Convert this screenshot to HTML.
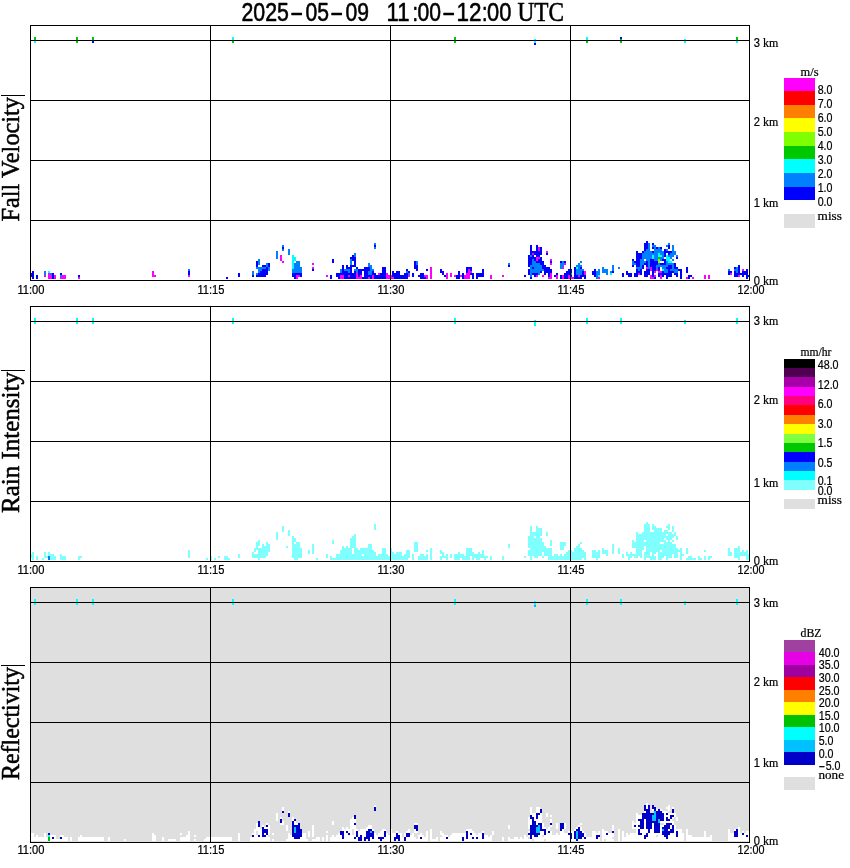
<!DOCTYPE html>
<html lang="en"><head><meta charset="utf-8"><title>2025-05-09 11:00-12:00 UTC</title>
<style>
html,body{margin:0;padding:0;background:#fff;}
body{width:850px;height:868px;overflow:hidden;}
svg{display:block;}
text{fill:#000;white-space:pre;stroke:#000;stroke-linejoin:round;}
.b{stroke-width:.55px;}
.s{stroke-width:.22px;}
</style></head><body>
<svg width="850" height="868" viewBox="0 0 850 868" shape-rendering="crispEdges">
<rect width="850" height="868" fill="#fff"/>
<path fill="#0000ff" d="M30 273h2v4h-2zM32 271h2v8h-2zM36 275h2v4h-2zM52 273h2v6h-2zM60 273h2v2h-2zM78 275h2v2h-2zM92 41h2v2h-2zM188 271h2v4h-2zM226 277h2v2h-2zM238 273h2v4h-2zM252 275h2v2h-2zM256 275h2v2h-2zM256 261h2v6h-2zM258 273h2v4h-2zM260 271h2v6h-2zM262 269h2v8h-2zM262 265h2v2h-2zM264 269h2v8h-2zM264 265h2v2h-2zM266 267h2v8h-2zM268 263h2v4h-2zM282 247h2v2h-2zM292 273h2v4h-2zM294 273h2v6h-2zM296 273h2v2h-2zM298 273h2v2h-2zM300 273h2v4h-2zM312 269h2v2h-2zM330 275h2v4h-2zM332 259h2v4h-2zM336 273h2v4h-2zM338 273h2v6h-2zM340 273h2v2h-2zM342 265h2v10h-2zM344 271h2v8h-2zM346 271h2v8h-2zM346 265h2v4h-2zM348 277h2v2h-2zM348 273h2v2h-2zM348 267h2v2h-2zM350 265h2v14h-2zM350 257h2v2h-2zM352 273h2v6h-2zM352 265h2v2h-2zM352 255h2v6h-2zM354 271h2v8h-2zM354 257h2v10h-2zM356 267h2v2h-2zM358 269h2v8h-2zM360 269h2v6h-2zM362 277h2v2h-2zM362 269h2v2h-2zM364 267h2v12h-2zM366 267h2v12h-2zM368 275h2v2h-2zM368 267h2v4h-2zM370 275h2v4h-2zM372 271h2v4h-2zM374 273h2v6h-2zM374 245h2v2h-2zM376 275h2v4h-2zM378 275h2v4h-2zM380 273h2v6h-2zM382 267h2v12h-2zM384 267h2v12h-2zM392 271h2v6h-2zM394 273h2v6h-2zM396 271h2v8h-2zM398 271h2v8h-2zM400 275h2v4h-2zM402 275h2v4h-2zM404 273h2v6h-2zM406 273h2v6h-2zM406 269h2v2h-2zM408 271h2v2h-2zM412 273h2v4h-2zM414 261h2v8h-2zM416 265h2v6h-2zM418 275h2v2h-2zM420 273h2v6h-2zM422 273h2v6h-2zM424 277h2v2h-2zM426 269h2v2h-2zM440 269h2v4h-2zM442 271h2v4h-2zM444 275h2v2h-2zM456 275h2v4h-2zM458 271h2v8h-2zM462 273h2v6h-2zM466 267h2v6h-2zM468 267h2v2h-2zM470 273h2v2h-2zM470 267h2v4h-2zM472 273h2v6h-2zM476 273h2v6h-2zM478 273h2v4h-2zM480 273h2v4h-2zM482 269h2v8h-2zM508 265h2v2h-2zM524 275h2v2h-2zM528 269h2v6h-2zM528 255h2v12h-2zM530 277h2v2h-2zM530 257h2v8h-2zM530 245h2v10h-2zM532 273h2v2h-2zM532 267h2v2h-2zM532 255h2v4h-2zM532 251h2v2h-2zM534 273h2v4h-2zM534 257h2v4h-2zM534 251h2v4h-2zM534 43h2v2h-2zM536 273h2v2h-2zM536 261h2v2h-2zM536 245h2v12h-2zM538 259h2v4h-2zM538 251h2v6h-2zM540 271h2v2h-2zM540 257h2v8h-2zM540 247h2v8h-2zM542 261h2v8h-2zM544 265h2v10h-2zM546 267h2v6h-2zM546 253h2v2h-2zM548 267h2v10h-2zM550 269h2v4h-2zM550 261h2v2h-2zM554 275h2v2h-2zM556 273h2v2h-2zM560 275h2v4h-2zM560 261h2v2h-2zM564 273h2v6h-2zM564 261h2v2h-2zM566 271h2v8h-2zM568 269h2v6h-2zM570 275h2v2h-2zM570 269h2v4h-2zM574 267h2v12h-2zM576 275h2v4h-2zM578 277h2v2h-2zM580 275h2v4h-2zM580 267h2v2h-2zM582 271h2v6h-2zM584 275h2v4h-2zM592 271h2v4h-2zM594 269h2v8h-2zM612 271h2v2h-2zM620 37h2v2h-2zM622 273h2v4h-2zM626 271h2v4h-2zM628 273h2v4h-2zM630 273h2v4h-2zM632 265h2v2h-2zM632 259h2v2h-2zM634 273h2v4h-2zM634 261h2v2h-2zM636 269h2v8h-2zM636 251h2v16h-2zM638 271h2v2h-2zM638 253h2v14h-2zM640 269h2v6h-2zM640 253h2v6h-2zM642 265h2v4h-2zM642 251h2v2h-2zM644 271h2v6h-2zM644 263h2v2h-2zM644 243h2v8h-2zM646 269h2v8h-2zM646 261h2v6h-2zM646 241h2v8h-2zM648 269h2v6h-2zM650 259h2v8h-2zM652 259h2v18h-2zM652 251h2v2h-2zM652 247h2v2h-2zM652 243h2v2h-2zM654 277h2v2h-2zM654 261h2v10h-2zM656 261h2v4h-2zM656 247h2v2h-2zM658 273h2v4h-2zM658 267h2v4h-2zM660 273h2v2h-2zM660 263h2v2h-2zM660 247h2v2h-2zM662 271h2v6h-2zM662 263h2v2h-2zM662 259h2v2h-2zM664 273h2v2h-2zM664 259h2v6h-2zM664 249h2v8h-2zM666 273h2v6h-2zM666 267h2v2h-2zM666 251h2v2h-2zM668 265h2v12h-2zM668 251h2v4h-2zM668 245h2v4h-2zM670 271h2v6h-2zM670 265h2v4h-2zM670 251h2v2h-2zM672 271h2v2h-2zM674 273h2v2h-2zM674 263h2v6h-2zM676 273h2v4h-2zM676 267h2v2h-2zM676 257h2v2h-2zM678 269h2v2h-2zM680 269h2v10h-2zM686 267h2v6h-2zM688 275h2v4h-2zM690 275h2v2h-2zM728 271h2v4h-2zM730 271h2v2h-2zM734 271h2v6h-2zM734 267h2v2h-2zM736 273h2v4h-2zM738 265h2v10h-2zM740 273h2v2h-2zM742 271h2v6h-2zM744 271h2v4h-2zM746 269h2v10h-2zM748 275h2v2h-2z"/>
<path fill="#ff00ff" d="M44 275h2v2h-2zM48 273h2v6h-2zM50 275h2v4h-2zM54 275h2v4h-2zM60 277h2v2h-2zM62 275h2v4h-2zM64 275h2v4h-2zM78 277h2v2h-2zM152 271h2v6h-2zM154 275h2v2h-2zM188 275h2v2h-2zM280 255h2v6h-2zM282 261h2v2h-2zM296 275h2v4h-2zM298 275h2v2h-2zM312 267h2v2h-2zM312 263h2v2h-2zM326 275h2v2h-2zM340 275h2v4h-2zM342 275h2v4h-2zM348 275h2v2h-2zM356 273h2v6h-2zM358 277h2v2h-2zM360 275h2v4h-2zM368 277h2v2h-2zM372 275h2v4h-2zM378 273h2v2h-2zM386 273h2v6h-2zM388 275h2v4h-2zM390 275h2v4h-2zM392 277h2v2h-2zM408 275h2v2h-2zM424 275h2v2h-2zM426 275h2v4h-2zM430 267h2v12h-2zM446 273h2v6h-2zM450 273h2v4h-2zM454 275h2v2h-2zM460 275h2v2h-2zM464 275h2v4h-2zM466 273h2v6h-2zM468 269h2v10h-2zM470 271h2v2h-2zM490 275h2v4h-2zM502 275h2v2h-2zM532 253h2v2h-2zM536 275h2v2h-2zM536 257h2v4h-2zM538 257h2v2h-2zM538 247h2v4h-2zM542 275h2v2h-2zM546 251h2v2h-2zM548 277h2v2h-2zM550 273h2v6h-2zM550 263h2v2h-2zM550 259h2v2h-2zM556 275h2v4h-2zM562 275h2v4h-2zM562 267h2v2h-2zM564 263h2v2h-2zM568 275h2v4h-2zM570 277h2v2h-2zM572 277h2v2h-2zM578 275h2v2h-2zM584 271h2v4h-2zM598 277h2v2h-2zM638 273h2v2h-2zM646 267h2v2h-2zM650 275h2v4h-2zM650 267h2v4h-2zM652 277h2v2h-2zM654 275h2v2h-2zM654 271h2v2h-2zM656 269h2v2h-2zM658 271h2v2h-2zM660 275h2v4h-2zM660 271h2v2h-2zM686 277h2v2h-2zM692 277h2v2h-2zM704 275h2v4h-2zM708 275h2v4h-2zM730 273h2v2h-2zM738 275h2v2h-2zM742 269h2v2h-2z"/>
<path fill="#0080ff" d="M44 271h2v4h-2zM50 273h2v2h-2zM60 275h2v2h-2zM188 269h2v2h-2zM252 271h2v4h-2zM256 273h2v2h-2zM256 267h2v2h-2zM258 267h2v6h-2zM258 259h2v6h-2zM260 267h2v4h-2zM262 267h2v2h-2zM264 267h2v2h-2zM266 263h2v4h-2zM268 267h2v4h-2zM276 251h2v8h-2zM282 249h2v2h-2zM282 245h2v2h-2zM288 249h2v6h-2zM292 269h2v4h-2zM294 263h2v10h-2zM296 261h2v12h-2zM298 261h2v12h-2zM300 267h2v6h-2zM340 269h2v4h-2zM344 269h2v2h-2zM346 269h2v2h-2zM348 269h2v4h-2zM350 259h2v6h-2zM354 269h2v2h-2zM354 253h2v4h-2zM356 269h2v4h-2zM368 271h2v4h-2zM368 263h2v4h-2zM370 265h2v10h-2zM372 269h2v2h-2zM374 247h2v2h-2zM374 243h2v2h-2zM406 271h2v2h-2zM408 273h2v2h-2zM416 261h2v4h-2zM508 263h2v2h-2zM530 265h2v12h-2zM530 255h2v2h-2zM532 269h2v4h-2zM532 259h2v8h-2zM534 261h2v12h-2zM536 263h2v10h-2zM538 263h2v12h-2zM540 265h2v6h-2zM542 269h2v2h-2zM560 263h2v6h-2zM562 261h2v6h-2zM570 273h2v2h-2zM576 269h2v6h-2zM576 265h2v2h-2zM578 263h2v12h-2zM580 269h2v6h-2zM580 265h2v2h-2zM580 261h2v2h-2zM582 269h2v2h-2zM596 271h2v8h-2zM598 269h2v6h-2zM602 267h2v6h-2zM604 269h2v4h-2zM606 269h2v6h-2zM610 271h2v2h-2zM612 265h2v6h-2zM618 267h2v2h-2zM632 261h2v4h-2zM634 263h2v2h-2zM636 267h2v2h-2zM638 267h2v4h-2zM640 259h2v10h-2zM642 253h2v12h-2zM644 261h2v2h-2zM644 251h2v8h-2zM646 249h2v12h-2zM648 243h2v26h-2zM650 251h2v8h-2zM652 253h2v2h-2zM652 245h2v2h-2zM654 245h2v16h-2zM656 265h2v4h-2zM656 249h2v12h-2zM658 263h2v4h-2zM658 247h2v6h-2zM660 265h2v2h-2zM660 257h2v4h-2zM660 249h2v6h-2zM662 265h2v4h-2zM662 251h2v8h-2zM664 265h2v8h-2zM666 269h2v4h-2zM666 261h2v6h-2zM666 249h2v2h-2zM666 245h2v2h-2zM668 263h2v2h-2zM668 255h2v2h-2zM668 243h2v2h-2zM670 269h2v2h-2zM670 263h2v2h-2zM670 253h2v6h-2zM672 263h2v8h-2zM672 259h2v2h-2zM672 245h2v12h-2zM674 269h2v4h-2zM674 251h2v4h-2zM676 269h2v4h-2zM676 255h2v2h-2zM728 269h2v2h-2zM734 269h2v2h-2zM736 267h2v6h-2z"/>
<path fill="#00ffff" d="M34 41h2v2h-2zM48 271h2v2h-2zM232 37h2v4h-2zM292 255h2v14h-2zM294 257h2v4h-2zM534 39h2v4h-2zM576 267h2v2h-2zM586 37h2v4h-2zM598 275h2v2h-2zM610 273h2v2h-2zM652 255h2v4h-2zM658 253h2v4h-2zM660 255h2v2h-2zM662 269h2v2h-2zM666 255h2v6h-2zM668 257h2v6h-2zM670 261h2v2h-2zM684 39h2v4h-2zM736 41h2v2h-2z"/>
<path fill="#80ff00" d="M658 259h2v4h-2z"/>
<path fill="#00c800" d="M34 37h2v4h-2zM76 37h2v6h-2zM92 37h2v4h-2zM232 41h2v2h-2zM454 37h2v6h-2zM586 41h2v2h-2zM620 39h2v4h-2zM658 257h2v2h-2zM736 37h2v4h-2z"/>
<path fill="#000" d="M30 25h720v1h-720zM30 40h720v1h-720zM30 100h720v1h-720zM30 160h720v1h-720zM30 220h720v1h-720zM30 280h720v1h-720zM30 25h1v256h-1zM210 25h1v256h-1zM390 25h1v256h-1zM570 25h1v256h-1zM749 25h1v256h-1z"/>
<text x="17.4" y="294" font-size="12.5" font-family='"Liberation Sans", sans-serif' text-anchor="start" textLength="27" lengthAdjust="spacingAndGlyphs" class="s">11:00</text>
<text x="197.4" y="294" font-size="12.5" font-family='"Liberation Sans", sans-serif' text-anchor="start" textLength="27" lengthAdjust="spacingAndGlyphs" class="s">11:15</text>
<text x="377.4" y="294" font-size="12.5" font-family='"Liberation Sans", sans-serif' text-anchor="start" textLength="27" lengthAdjust="spacingAndGlyphs" class="s">11:30</text>
<text x="557.4" y="294" font-size="12.5" font-family='"Liberation Sans", sans-serif' text-anchor="start" textLength="27" lengthAdjust="spacingAndGlyphs" class="s">11:45</text>
<text x="737.4" y="294" font-size="12.5" font-family='"Liberation Sans", sans-serif' text-anchor="start" textLength="27" lengthAdjust="spacingAndGlyphs" class="s">12:00</text>
<text x="753.8" y="47" font-size="12.5" font-family='"Liberation Sans", sans-serif' text-anchor="start" textLength="6.2" lengthAdjust="spacingAndGlyphs" class="s">3</text>
<text x="763" y="47" font-size="13" font-family='"Liberation Serif", serif' text-anchor="start" textLength="15.3" lengthAdjust="spacingAndGlyphs" class="s">km</text>
<text x="753.8" y="126" font-size="12.5" font-family='"Liberation Sans", sans-serif' text-anchor="start" textLength="6.2" lengthAdjust="spacingAndGlyphs" class="s">2</text>
<text x="763" y="126" font-size="13" font-family='"Liberation Serif", serif' text-anchor="start" textLength="15.3" lengthAdjust="spacingAndGlyphs" class="s">km</text>
<text x="753.8" y="207" font-size="12.5" font-family='"Liberation Sans", sans-serif' text-anchor="start" textLength="6.2" lengthAdjust="spacingAndGlyphs" class="s">1</text>
<text x="763" y="207" font-size="13" font-family='"Liberation Serif", serif' text-anchor="start" textLength="15.3" lengthAdjust="spacingAndGlyphs" class="s">km</text>
<text x="753.8" y="285" font-size="12.5" font-family='"Liberation Sans", sans-serif' text-anchor="start" textLength="6.2" lengthAdjust="spacingAndGlyphs" class="s">0</text>
<text x="763" y="285" font-size="13" font-family='"Liberation Serif", serif' text-anchor="start" textLength="15.3" lengthAdjust="spacingAndGlyphs" class="s">km</text>
<path fill="#80ffff" d="M30 554h2v4h-2zM32 552h2v8h-2zM36 556h2v4h-2zM42 558h2v2h-2zM44 552h2v6h-2zM46 556h2v2h-2zM48 552h2v4h-2zM50 554h2v6h-2zM52 554h2v6h-2zM54 556h2v4h-2zM60 554h2v6h-2zM62 556h2v4h-2zM64 556h2v4h-2zM78 556h2v4h-2zM80 556h2v2h-2zM188 550h2v8h-2zM206 558h2v2h-2zM210 556h2v4h-2zM214 558h2v2h-2zM218 556h2v2h-2zM224 556h2v4h-2zM226 556h2v4h-2zM228 558h2v2h-2zM238 554h2v4h-2zM252 552h2v6h-2zM254 554h2v4h-2zM254 548h2v4h-2zM256 554h2v4h-2zM256 542h2v8h-2zM258 548h2v12h-2zM258 540h2v6h-2zM260 548h2v10h-2zM262 544h2v14h-2zM264 546h2v12h-2zM266 542h2v14h-2zM268 544h2v8h-2zM276 532h2v8h-2zM282 526h2v6h-2zM286 546h2v2h-2zM288 530h2v6h-2zM292 536h2v22h-2zM294 544h2v16h-2zM294 538h2v4h-2zM296 542h2v18h-2zM298 542h2v16h-2zM300 548h2v10h-2zM308 550h2v4h-2zM312 544h2v10h-2zM316 558h2v2h-2zM326 554h2v4h-2zM330 556h2v4h-2zM332 558h2v2h-2zM332 540h2v4h-2zM334 558h2v2h-2zM336 554h2v6h-2zM338 554h2v6h-2zM340 550h2v10h-2zM342 546h2v14h-2zM344 548h2v12h-2zM346 546h2v14h-2zM348 548h2v12h-2zM350 538h2v22h-2zM352 554h2v6h-2zM352 536h2v12h-2zM354 534h2v26h-2zM356 548h2v12h-2zM358 550h2v10h-2zM360 548h2v12h-2zM362 556h2v4h-2zM362 548h2v6h-2zM364 548h2v12h-2zM366 548h2v12h-2zM368 544h2v16h-2zM370 544h2v16h-2zM372 550h2v10h-2zM374 552h2v8h-2zM374 524h2v6h-2zM376 556h2v4h-2zM378 554h2v6h-2zM380 554h2v6h-2zM382 548h2v12h-2zM384 548h2v12h-2zM386 554h2v6h-2zM388 556h2v4h-2zM390 548h2v12h-2zM392 552h2v8h-2zM394 554h2v6h-2zM396 552h2v8h-2zM398 552h2v8h-2zM400 552h2v8h-2zM402 556h2v4h-2zM404 554h2v6h-2zM406 550h2v10h-2zM408 550h2v8h-2zM412 554h2v6h-2zM414 542h2v10h-2zM416 542h2v10h-2zM418 556h2v4h-2zM420 554h2v6h-2zM422 554h2v6h-2zM424 556h2v4h-2zM426 554h2v6h-2zM426 550h2v2h-2zM430 548h2v12h-2zM440 556h2v4h-2zM440 550h2v4h-2zM442 552h2v6h-2zM444 556h2v2h-2zM446 554h2v6h-2zM450 554h2v4h-2zM454 554h2v6h-2zM456 554h2v6h-2zM458 552h2v8h-2zM460 554h2v4h-2zM462 554h2v6h-2zM464 556h2v4h-2zM466 548h2v12h-2zM468 548h2v12h-2zM470 548h2v8h-2zM472 552h2v8h-2zM474 554h2v4h-2zM476 554h2v6h-2zM478 552h2v8h-2zM480 554h2v4h-2zM482 550h2v8h-2zM484 556h2v4h-2zM486 556h2v2h-2zM490 556h2v4h-2zM502 556h2v4h-2zM508 544h2v4h-2zM524 556h2v2h-2zM528 550h2v6h-2zM528 536h2v12h-2zM530 526h2v34h-2zM532 532h2v24h-2zM534 538h2v20h-2zM534 532h2v4h-2zM536 526h2v32h-2zM538 528h2v28h-2zM540 538h2v18h-2zM540 528h2v8h-2zM542 556h2v2h-2zM542 542h2v10h-2zM544 546h2v10h-2zM546 548h2v8h-2zM546 532h2v4h-2zM548 548h2v12h-2zM550 548h2v12h-2zM550 540h2v6h-2zM552 556h2v4h-2zM554 554h2v6h-2zM556 554h2v6h-2zM558 556h2v4h-2zM560 554h2v6h-2zM560 542h2v8h-2zM562 556h2v4h-2zM562 542h2v8h-2zM564 554h2v6h-2zM564 542h2v4h-2zM566 552h2v8h-2zM568 550h2v10h-2zM570 550h2v10h-2zM572 552h2v8h-2zM574 548h2v12h-2zM576 546h2v14h-2zM578 544h2v16h-2zM580 548h2v12h-2zM580 542h2v2h-2zM582 550h2v8h-2zM584 552h2v8h-2zM592 550h2v8h-2zM594 550h2v8h-2zM596 552h2v8h-2zM598 550h2v8h-2zM602 548h2v6h-2zM604 550h2v4h-2zM606 550h2v6h-2zM612 544h2v10h-2zM618 548h2v6h-2zM622 554h2v4h-2zM626 552h2v4h-2zM628 554h2v6h-2zM630 552h2v6h-2zM632 554h2v2h-2zM632 540h2v8h-2zM634 554h2v4h-2zM634 542h2v6h-2zM636 532h2v26h-2zM638 534h2v22h-2zM640 534h2v24h-2zM642 532h2v18h-2zM644 552h2v8h-2zM644 542h2v4h-2zM644 524h2v16h-2zM646 522h2v36h-2zM648 524h2v34h-2zM650 556h2v4h-2zM650 532h2v20h-2zM652 532h2v28h-2zM652 524h2v6h-2zM654 556h2v4h-2zM654 526h2v28h-2zM656 528h2v24h-2zM658 528h2v32h-2zM660 552h2v8h-2zM660 544h2v6h-2zM660 528h2v14h-2zM662 544h2v14h-2zM662 532h2v10h-2zM664 540h2v16h-2zM664 530h2v8h-2zM666 542h2v18h-2zM666 536h2v4h-2zM666 530h2v4h-2zM666 526h2v2h-2zM668 532h2v26h-2zM668 524h2v6h-2zM670 542h2v16h-2zM670 532h2v8h-2zM672 544h2v10h-2zM672 540h2v2h-2zM672 534h2v4h-2zM672 526h2v6h-2zM674 544h2v14h-2zM674 532h2v4h-2zM676 548h2v10h-2zM676 536h2v4h-2zM678 550h2v2h-2zM680 548h2v12h-2zM682 554h2v2h-2zM686 558h2v2h-2zM686 548h2v6h-2zM688 556h2v4h-2zM690 556h2v4h-2zM692 558h2v2h-2zM694 558h2v2h-2zM698 556h2v4h-2zM700 558h2v2h-2zM704 556h2v4h-2zM704 550h2v2h-2zM708 556h2v4h-2zM710 556h2v2h-2zM728 548h2v8h-2zM730 552h2v4h-2zM734 548h2v10h-2zM736 548h2v10h-2zM738 546h2v14h-2zM740 552h2v4h-2zM742 550h2v6h-2zM744 552h2v4h-2zM746 550h2v10h-2zM748 554h2v6h-2z"/>
<path fill="#0080ff" d="M48 556h2v4h-2z"/>
<path fill="#00ffff" d="M34 318h2v6h-2zM76 318h2v6h-2zM92 318h2v6h-2zM232 318h2v6h-2zM454 318h2v6h-2zM534 320h2v6h-2zM586 318h2v6h-2zM620 318h2v6h-2zM684 320h2v4h-2zM736 318h2v6h-2z"/>
<path fill="#000" d="M30 306h720v1h-720zM30 321h720v1h-720zM30 381h720v1h-720zM30 441h720v1h-720zM30 501h720v1h-720zM30 561h720v1h-720zM30 306h1v256h-1zM210 306h1v256h-1zM390 306h1v256h-1zM570 306h1v256h-1zM749 306h1v256h-1z"/>
<text x="17.4" y="574" font-size="12.5" font-family='"Liberation Sans", sans-serif' text-anchor="start" textLength="27" lengthAdjust="spacingAndGlyphs" class="s">11:00</text>
<text x="197.4" y="574" font-size="12.5" font-family='"Liberation Sans", sans-serif' text-anchor="start" textLength="27" lengthAdjust="spacingAndGlyphs" class="s">11:15</text>
<text x="377.4" y="574" font-size="12.5" font-family='"Liberation Sans", sans-serif' text-anchor="start" textLength="27" lengthAdjust="spacingAndGlyphs" class="s">11:30</text>
<text x="557.4" y="574" font-size="12.5" font-family='"Liberation Sans", sans-serif' text-anchor="start" textLength="27" lengthAdjust="spacingAndGlyphs" class="s">11:45</text>
<text x="737.4" y="574" font-size="12.5" font-family='"Liberation Sans", sans-serif' text-anchor="start" textLength="27" lengthAdjust="spacingAndGlyphs" class="s">12:00</text>
<text x="753.8" y="325" font-size="12.5" font-family='"Liberation Sans", sans-serif' text-anchor="start" textLength="6.2" lengthAdjust="spacingAndGlyphs" class="s">3</text>
<text x="763" y="325" font-size="13" font-family='"Liberation Serif", serif' text-anchor="start" textLength="15.3" lengthAdjust="spacingAndGlyphs" class="s">km</text>
<text x="753.8" y="404" font-size="12.5" font-family='"Liberation Sans", sans-serif' text-anchor="start" textLength="6.2" lengthAdjust="spacingAndGlyphs" class="s">2</text>
<text x="763" y="404" font-size="13" font-family='"Liberation Serif", serif' text-anchor="start" textLength="15.3" lengthAdjust="spacingAndGlyphs" class="s">km</text>
<text x="753.8" y="487" font-size="12.5" font-family='"Liberation Sans", sans-serif' text-anchor="start" textLength="6.2" lengthAdjust="spacingAndGlyphs" class="s">1</text>
<text x="763" y="487" font-size="13" font-family='"Liberation Serif", serif' text-anchor="start" textLength="15.3" lengthAdjust="spacingAndGlyphs" class="s">km</text>
<text x="753.8" y="565" font-size="12.5" font-family='"Liberation Sans", sans-serif' text-anchor="start" textLength="6.2" lengthAdjust="spacingAndGlyphs" class="s">0</text>
<text x="763" y="565" font-size="13" font-family='"Liberation Serif", serif' text-anchor="start" textLength="15.3" lengthAdjust="spacingAndGlyphs" class="s">km</text>
<rect x="30" y="587" width="720" height="256" fill="#dfdfdf"/>
<path fill="#ffffff" d="M30 833h2v8h-2zM32 833h2v8h-2zM34 837h2v4h-2zM36 835h2v6h-2zM38 837h2v4h-2zM40 837h2v4h-2zM42 837h2v4h-2zM44 833h2v8h-2zM46 837h2v4h-2zM50 835h2v6h-2zM52 839h2v2h-2zM52 835h2v2h-2zM54 835h2v6h-2zM56 839h2v2h-2zM58 839h2v2h-2zM60 839h2v2h-2zM60 835h2v2h-2zM62 835h2v6h-2zM64 837h2v4h-2zM66 837h2v4h-2zM70 837h2v4h-2zM78 837h2v4h-2zM80 835h2v6h-2zM82 837h2v4h-2zM84 837h2v4h-2zM86 837h2v4h-2zM88 837h2v4h-2zM90 837h2v4h-2zM92 837h2v4h-2zM94 837h2v4h-2zM96 837h2v4h-2zM98 837h2v4h-2zM100 837h2v4h-2zM102 837h2v4h-2zM108 837h2v4h-2zM124 839h2v2h-2zM152 833h2v8h-2zM154 835h2v6h-2zM162 837h2v4h-2zM168 839h2v2h-2zM170 839h2v2h-2zM172 839h2v2h-2zM174 839h2v2h-2zM180 837h2v4h-2zM180 833h2v2h-2zM182 837h2v4h-2zM184 837h2v4h-2zM186 835h2v6h-2zM188 831h2v10h-2zM194 839h2v2h-2zM194 835h2v2h-2zM204 839h2v2h-2zM206 837h2v4h-2zM208 837h2v4h-2zM210 837h2v4h-2zM212 837h2v4h-2zM214 837h2v4h-2zM216 837h2v4h-2zM218 837h2v4h-2zM220 837h2v4h-2zM222 837h2v4h-2zM224 837h2v4h-2zM226 837h2v4h-2zM228 837h2v4h-2zM230 837h2v4h-2zM238 833h2v8h-2zM250 837h2v4h-2zM252 837h2v4h-2zM252 833h2v2h-2zM254 829h2v12h-2zM256 835h2v6h-2zM256 823h2v8h-2zM258 837h2v4h-2zM258 827h2v8h-2zM260 829h2v12h-2zM262 837h2v4h-2zM262 825h2v2h-2zM264 837h2v4h-2zM264 833h2v2h-2zM264 827h2v2h-2zM266 835h2v6h-2zM266 827h2v2h-2zM266 823h2v2h-2zM268 837h2v4h-2zM268 825h2v10h-2zM272 839h2v2h-2zM272 833h2v2h-2zM276 813h2v8h-2zM280 823h2v2h-2zM280 817h2v2h-2zM282 821h2v4h-2zM282 807h2v4h-2zM286 839h2v2h-2zM286 825h2v6h-2zM288 833h2v8h-2zM288 811h2v2h-2zM290 835h2v6h-2zM292 837h2v4h-2zM292 817h2v4h-2zM294 839h2v2h-2zM294 821h2v4h-2zM296 839h2v2h-2zM296 823h2v2h-2zM298 839h2v2h-2zM300 837h2v4h-2zM302 833h2v8h-2zM304 833h2v8h-2zM306 839h2v2h-2zM308 831h2v6h-2zM312 839h2v2h-2zM312 825h2v12h-2zM314 839h2v2h-2zM316 837h2v4h-2zM318 837h2v4h-2zM322 837h2v4h-2zM326 835h2v6h-2zM326 831h2v2h-2zM330 837h2v4h-2zM332 835h2v6h-2zM332 821h2v4h-2zM334 837h2v4h-2zM336 835h2v6h-2zM338 833h2v8h-2zM340 835h2v6h-2zM342 839h2v2h-2zM342 827h2v4h-2zM344 829h2v12h-2zM346 833h2v8h-2zM346 827h2v4h-2zM348 835h2v6h-2zM348 829h2v4h-2zM350 819h2v22h-2zM352 835h2v6h-2zM352 817h2v12h-2zM354 839h2v2h-2zM354 825h2v12h-2zM354 819h2v4h-2zM356 837h2v4h-2zM356 829h2v2h-2zM358 831h2v6h-2zM360 829h2v6h-2zM362 829h2v12h-2zM364 829h2v8h-2zM366 839h2v2h-2zM366 827h2v4h-2zM368 825h2v4h-2zM370 837h2v4h-2zM370 825h2v4h-2zM372 839h2v2h-2zM372 829h2v2h-2zM374 833h2v8h-2zM374 805h2v2h-2zM376 835h2v6h-2zM378 839h2v2h-2zM378 833h2v4h-2zM380 831h2v6h-2zM382 839h2v2h-2zM382 829h2v8h-2zM384 837h2v4h-2zM384 829h2v2h-2zM386 833h2v8h-2zM388 835h2v6h-2zM390 829h2v12h-2zM392 833h2v8h-2zM394 833h2v4h-2zM396 839h2v2h-2zM396 831h2v2h-2zM398 833h2v2h-2zM400 833h2v8h-2zM402 837h2v4h-2zM404 833h2v4h-2zM406 837h2v4h-2zM406 831h2v2h-2zM408 837h2v4h-2zM408 829h2v4h-2zM410 835h2v6h-2zM412 833h2v8h-2zM414 837h2v4h-2zM414 829h2v4h-2zM414 823h2v2h-2zM416 839h2v2h-2zM416 831h2v2h-2zM416 823h2v2h-2zM418 835h2v6h-2zM420 839h2v2h-2zM420 833h2v4h-2zM422 835h2v6h-2zM424 837h2v4h-2zM426 831h2v10h-2zM430 829h2v12h-2zM432 839h2v2h-2zM434 839h2v2h-2zM436 837h2v4h-2zM440 837h2v4h-2zM440 831h2v4h-2zM442 833h2v8h-2zM444 835h2v6h-2zM446 839h2v2h-2zM446 835h2v2h-2zM448 837h2v4h-2zM450 835h2v6h-2zM452 833h2v8h-2zM454 833h2v8h-2zM456 833h2v8h-2zM458 833h2v8h-2zM460 833h2v8h-2zM462 833h2v4h-2zM464 833h2v8h-2zM466 839h2v2h-2zM466 829h2v2h-2zM468 829h2v12h-2zM470 835h2v6h-2zM470 829h2v4h-2zM472 839h2v2h-2zM472 831h2v6h-2zM474 833h2v8h-2zM476 839h2v2h-2zM476 835h2v2h-2zM478 833h2v8h-2zM480 833h2v8h-2zM482 839h2v2h-2zM482 831h2v2h-2zM484 835h2v6h-2zM486 835h2v6h-2zM488 837h2v4h-2zM490 835h2v6h-2zM492 831h2v4h-2zM502 837h2v4h-2zM508 837h2v4h-2zM508 825h2v4h-2zM510 839h2v2h-2zM512 839h2v2h-2zM514 837h2v4h-2zM516 837h2v4h-2zM518 839h2v2h-2zM520 837h2v4h-2zM522 839h2v2h-2zM524 835h2v6h-2zM526 837h2v4h-2zM528 839h2v2h-2zM528 835h2v2h-2zM528 831h2v2h-2zM528 817h2v12h-2zM530 839h2v2h-2zM530 819h2v6h-2zM530 807h2v8h-2zM532 835h2v4h-2zM532 813h2v4h-2zM534 837h2v4h-2zM534 813h2v8h-2zM536 837h2v4h-2zM536 819h2v6h-2zM536 807h2v6h-2zM538 835h2v6h-2zM538 815h2v8h-2zM538 807h2v6h-2zM540 831h2v10h-2zM540 813h2v10h-2zM542 837h2v4h-2zM542 831h2v4h-2zM542 823h2v6h-2zM544 835h2v4h-2zM544 827h2v2h-2zM546 829h2v12h-2zM546 813h2v4h-2zM548 833h2v8h-2zM548 827h2v4h-2zM550 831h2v10h-2zM550 825h2v2h-2zM550 819h2v4h-2zM550 815h2v2h-2zM552 835h2v6h-2zM554 835h2v6h-2zM556 833h2v8h-2zM556 823h2v6h-2zM558 835h2v6h-2zM560 831h2v10h-2zM562 829h2v12h-2zM564 833h2v8h-2zM564 823h2v6h-2zM566 833h2v8h-2zM568 835h2v6h-2zM568 831h2v2h-2zM570 839h2v2h-2zM570 831h2v2h-2zM572 831h2v10h-2zM574 839h2v2h-2zM574 829h2v2h-2zM576 827h2v2h-2zM578 839h2v2h-2zM578 825h2v2h-2zM580 839h2v2h-2zM580 827h2v4h-2zM580 823h2v2h-2zM582 837h2v4h-2zM582 831h2v2h-2zM584 839h2v2h-2zM584 833h2v4h-2zM586 837h2v4h-2zM588 837h2v4h-2zM590 837h2v4h-2zM592 831h2v10h-2zM594 831h2v10h-2zM596 839h2v2h-2zM596 833h2v2h-2zM598 837h2v4h-2zM598 831h2v4h-2zM602 829h2v12h-2zM604 831h2v8h-2zM606 835h2v6h-2zM606 831h2v2h-2zM608 833h2v8h-2zM610 833h2v8h-2zM612 839h2v2h-2zM612 833h2v4h-2zM612 825h2v6h-2zM618 829h2v12h-2zM622 831h2v10h-2zM624 837h2v4h-2zM626 833h2v8h-2zM628 835h2v6h-2zM630 833h2v8h-2zM632 833h2v8h-2zM632 821h2v8h-2zM634 833h2v8h-2zM634 827h2v2h-2zM634 823h2v2h-2zM636 813h2v28h-2zM638 835h2v6h-2zM638 827h2v2h-2zM638 821h2v4h-2zM638 815h2v4h-2zM640 835h2v6h-2zM640 829h2v4h-2zM640 815h2v4h-2zM642 829h2v12h-2zM644 839h2v2h-2zM644 819h2v16h-2zM644 811h2v2h-2zM646 837h2v4h-2zM646 829h2v4h-2zM646 803h2v6h-2zM648 833h2v8h-2zM650 829h2v12h-2zM652 823h2v18h-2zM652 809h2v2h-2zM654 833h2v8h-2zM656 837h2v4h-2zM656 833h2v2h-2zM656 809h2v2h-2zM658 833h2v8h-2zM660 825h2v16h-2zM660 821h2v2h-2zM660 809h2v2h-2zM662 835h2v6h-2zM662 825h2v2h-2zM662 821h2v2h-2zM662 811h2v2h-2zM664 837h2v4h-2zM664 811h2v14h-2zM666 839h2v2h-2zM666 821h2v2h-2zM666 815h2v2h-2zM666 811h2v2h-2zM666 807h2v2h-2zM668 835h2v6h-2zM668 829h2v2h-2zM668 821h2v2h-2zM668 813h2v6h-2zM668 805h2v6h-2zM670 833h2v8h-2zM670 825h2v4h-2zM670 819h2v4h-2zM670 813h2v2h-2zM672 833h2v8h-2zM672 821h2v4h-2zM672 817h2v2h-2zM672 813h2v2h-2zM672 807h2v2h-2zM674 825h2v16h-2zM674 813h2v4h-2zM676 837h2v4h-2zM676 829h2v2h-2zM676 817h2v4h-2zM678 829h2v12h-2zM680 829h2v12h-2zM682 833h2v8h-2zM686 829h2v12h-2zM688 835h2v6h-2zM690 835h2v6h-2zM692 837h2v4h-2zM694 837h2v4h-2zM696 837h2v4h-2zM698 837h2v4h-2zM700 837h2v4h-2zM702 837h2v4h-2zM704 831h2v10h-2zM706 837h2v4h-2zM708 837h2v4h-2zM710 835h2v6h-2zM728 829h2v12h-2zM730 833h2v8h-2zM732 833h2v8h-2zM734 837h2v4h-2zM734 829h2v2h-2zM736 837h2v4h-2zM738 827h2v14h-2zM740 833h2v8h-2zM742 835h2v6h-2zM742 831h2v2h-2zM744 833h2v8h-2zM746 837h2v4h-2zM746 831h2v4h-2zM748 831h2v10h-2z"/>
<path fill="#00c000" d="M48 837h2v4h-2z"/>
<path fill="#00ffff" d="M34 599h2v6h-2zM48 835h2v2h-2zM76 599h2v6h-2zM92 599h2v6h-2zM232 599h2v6h-2zM454 599h2v6h-2zM534 601h2v4h-2zM586 599h2v6h-2zM620 599h2v6h-2zM684 601h2v4h-2zM736 599h2v6h-2z"/>
<path fill="#0000c8" d="M48 833h2v2h-2zM52 837h2v2h-2zM60 837h2v2h-2zM252 835h2v2h-2zM258 835h2v2h-2zM258 821h2v6h-2zM262 827h2v10h-2zM264 835h2v2h-2zM264 829h2v4h-2zM266 829h2v6h-2zM266 825h2v2h-2zM280 819h2v4h-2zM282 811h2v2h-2zM288 813h2v4h-2zM292 821h2v16h-2zM294 833h2v6h-2zM294 825h2v2h-2zM294 819h2v2h-2zM296 825h2v14h-2zM298 823h2v16h-2zM300 829h2v8h-2zM340 831h2v4h-2zM342 831h2v8h-2zM346 831h2v2h-2zM348 833h2v2h-2zM354 837h2v2h-2zM354 823h2v2h-2zM354 815h2v4h-2zM356 831h2v6h-2zM358 837h2v4h-2zM360 835h2v6h-2zM364 837h2v4h-2zM366 831h2v8h-2zM368 829h2v12h-2zM370 833h2v4h-2zM370 829h2v2h-2zM372 831h2v8h-2zM374 807h2v4h-2zM378 837h2v2h-2zM380 837h2v4h-2zM382 837h2v2h-2zM384 831h2v6h-2zM394 837h2v4h-2zM396 833h2v6h-2zM398 835h2v6h-2zM404 837h2v4h-2zM406 833h2v4h-2zM408 833h2v4h-2zM414 825h2v4h-2zM416 825h2v6h-2zM420 837h2v2h-2zM446 837h2v2h-2zM462 837h2v4h-2zM466 831h2v8h-2zM470 833h2v2h-2zM472 837h2v2h-2zM476 837h2v2h-2zM482 833h2v6h-2zM528 833h2v2h-2zM530 825h2v14h-2zM530 815h2v4h-2zM532 817h2v18h-2zM534 821h2v16h-2zM536 833h2v4h-2zM536 825h2v2h-2zM536 813h2v6h-2zM538 833h2v2h-2zM538 823h2v2h-2zM538 813h2v2h-2zM540 823h2v8h-2zM540 809h2v4h-2zM542 829h2v2h-2zM544 829h2v6h-2zM548 831h2v2h-2zM550 823h2v2h-2zM560 823h2v8h-2zM562 823h2v6h-2zM568 833h2v2h-2zM570 833h2v6h-2zM574 831h2v8h-2zM576 839h2v2h-2zM576 829h2v2h-2zM578 827h2v12h-2zM580 831h2v8h-2zM582 833h2v4h-2zM584 837h2v2h-2zM596 835h2v4h-2zM598 835h2v2h-2zM606 833h2v2h-2zM612 831h2v2h-2zM634 825h2v2h-2zM638 829h2v6h-2zM638 825h2v2h-2zM638 819h2v2h-2zM640 833h2v2h-2zM640 819h2v10h-2zM642 813h2v16h-2zM644 835h2v4h-2zM644 813h2v6h-2zM644 805h2v6h-2zM646 833h2v4h-2zM646 809h2v20h-2zM648 805h2v28h-2zM650 813h2v16h-2zM652 821h2v2h-2zM652 813h2v2h-2zM652 805h2v4h-2zM654 821h2v12h-2zM654 807h2v4h-2zM656 811h2v22h-2zM658 823h2v10h-2zM658 809h2v10h-2zM660 811h2v10h-2zM662 831h2v4h-2zM662 827h2v2h-2zM662 813h2v8h-2zM664 825h2v12h-2zM666 823h2v16h-2zM666 817h2v4h-2zM666 813h2v2h-2zM668 831h2v4h-2zM668 823h2v6h-2zM668 819h2v2h-2zM670 829h2v4h-2zM670 823h2v2h-2zM670 815h2v4h-2zM672 825h2v8h-2zM672 815h2v2h-2zM672 809h2v4h-2zM676 831h2v6h-2zM734 831h2v6h-2zM736 829h2v8h-2zM742 833h2v2h-2zM746 835h2v2h-2z"/>
<path fill="#00c0ff" d="M294 827h2v6h-2zM370 831h2v2h-2zM534 605h2v2h-2zM536 827h2v6h-2zM538 825h2v8h-2zM576 831h2v8h-2zM652 815h2v6h-2zM654 811h2v10h-2zM658 819h2v4h-2zM662 829h2v2h-2z"/>
<path fill="#000" d="M30 587h720v1h-720zM30 602h720v1h-720zM30 662h720v1h-720zM30 722h720v1h-720zM30 782h720v1h-720zM30 842h720v1h-720zM30 587h1v256h-1zM210 587h1v256h-1zM390 587h1v256h-1zM570 587h1v256h-1zM749 587h1v256h-1z"/>
<text x="17.4" y="854" font-size="12.5" font-family='"Liberation Sans", sans-serif' text-anchor="start" textLength="27" lengthAdjust="spacingAndGlyphs" class="s">11:00</text>
<text x="197.4" y="854" font-size="12.5" font-family='"Liberation Sans", sans-serif' text-anchor="start" textLength="27" lengthAdjust="spacingAndGlyphs" class="s">11:15</text>
<text x="377.4" y="854" font-size="12.5" font-family='"Liberation Sans", sans-serif' text-anchor="start" textLength="27" lengthAdjust="spacingAndGlyphs" class="s">11:30</text>
<text x="557.4" y="854" font-size="12.5" font-family='"Liberation Sans", sans-serif' text-anchor="start" textLength="27" lengthAdjust="spacingAndGlyphs" class="s">11:45</text>
<text x="737.4" y="854" font-size="12.5" font-family='"Liberation Sans", sans-serif' text-anchor="start" textLength="27" lengthAdjust="spacingAndGlyphs" class="s">12:00</text>
<text x="753.8" y="607" font-size="12.5" font-family='"Liberation Sans", sans-serif' text-anchor="start" textLength="6.2" lengthAdjust="spacingAndGlyphs" class="s">3</text>
<text x="763" y="607" font-size="13" font-family='"Liberation Serif", serif' text-anchor="start" textLength="15.3" lengthAdjust="spacingAndGlyphs" class="s">km</text>
<text x="753.8" y="686" font-size="12.5" font-family='"Liberation Sans", sans-serif' text-anchor="start" textLength="6.2" lengthAdjust="spacingAndGlyphs" class="s">2</text>
<text x="763" y="686" font-size="13" font-family='"Liberation Serif", serif' text-anchor="start" textLength="15.3" lengthAdjust="spacingAndGlyphs" class="s">km</text>
<text x="753.8" y="767" font-size="12.5" font-family='"Liberation Sans", sans-serif' text-anchor="start" textLength="6.2" lengthAdjust="spacingAndGlyphs" class="s">1</text>
<text x="763" y="767" font-size="13" font-family='"Liberation Serif", serif' text-anchor="start" textLength="15.3" lengthAdjust="spacingAndGlyphs" class="s">km</text>
<text x="753.8" y="845" font-size="12.5" font-family='"Liberation Sans", sans-serif' text-anchor="start" textLength="6.2" lengthAdjust="spacingAndGlyphs" class="s">0</text>
<text x="763" y="845" font-size="13" font-family='"Liberation Serif", serif' text-anchor="start" textLength="15.3" lengthAdjust="spacingAndGlyphs" class="s">km</text>
<rect x="784" y="78" width="31" height="13" fill="#ff00ff"/>
<rect x="784" y="91" width="31" height="14" fill="#ff0000"/>
<rect x="784" y="105" width="31" height="13" fill="#ff8000"/>
<rect x="784" y="118" width="31" height="14" fill="#ffff00"/>
<rect x="784" y="132" width="31" height="14" fill="#80ff00"/>
<rect x="784" y="146" width="31" height="13" fill="#00c800"/>
<rect x="784" y="159" width="31" height="14" fill="#00ffff"/>
<rect x="784" y="173" width="31" height="14" fill="#0080ff"/>
<rect x="784" y="187" width="31" height="13" fill="#0000ff"/>
<rect x="784" y="214" width="31" height="14" fill="#dfdfdf"/>
<rect x="784" y="359" width="31" height="9" fill="#000000"/>
<rect x="784" y="368" width="31" height="9" fill="#500050"/>
<rect x="784" y="377" width="31" height="10" fill="#a800a8"/>
<rect x="784" y="387" width="31" height="9" fill="#ff00ff"/>
<rect x="784" y="396" width="31" height="9" fill="#ff0080"/>
<rect x="784" y="405" width="31" height="10" fill="#ff0000"/>
<rect x="784" y="415" width="31" height="9" fill="#ff8000"/>
<rect x="784" y="424" width="31" height="10" fill="#ffff00"/>
<rect x="784" y="434" width="31" height="9" fill="#80ff40"/>
<rect x="784" y="443" width="31" height="9" fill="#00c800"/>
<rect x="784" y="452" width="31" height="10" fill="#0000ff"/>
<rect x="784" y="462" width="31" height="9" fill="#0080ff"/>
<rect x="784" y="471" width="31" height="9" fill="#00ffff"/>
<rect x="784" y="480" width="31" height="10" fill="#80ffff"/>
<rect x="784" y="499" width="31" height="10" fill="#dfdfdf"/>
<rect x="784" y="640" width="31" height="12" fill="#a040a0"/>
<rect x="784" y="652" width="31" height="13" fill="#e600e6"/>
<rect x="784" y="665" width="31" height="12" fill="#a000a0"/>
<rect x="784" y="677" width="31" height="13" fill="#ff0000"/>
<rect x="784" y="690" width="31" height="12" fill="#ff8000"/>
<rect x="784" y="702" width="31" height="13" fill="#ffff00"/>
<rect x="784" y="715" width="31" height="12" fill="#00c000"/>
<rect x="784" y="727" width="31" height="13" fill="#00ffff"/>
<rect x="784" y="740" width="31" height="12" fill="#00c0ff"/>
<rect x="784" y="752" width="31" height="13" fill="#0000c8"/>
<rect x="784" y="777" width="31" height="13" fill="#dfdfdf"/>
<text x="817.6999999999999" y="94" font-size="12.5" font-family='"Liberation Sans", sans-serif' text-anchor="start" textLength="14.8" lengthAdjust="spacingAndGlyphs" class="s">8.0</text>
<text x="817.6999999999999" y="108" font-size="12.5" font-family='"Liberation Sans", sans-serif' text-anchor="start" textLength="14.8" lengthAdjust="spacingAndGlyphs" class="s">7.0</text>
<text x="817.6999999999999" y="122" font-size="12.5" font-family='"Liberation Sans", sans-serif' text-anchor="start" textLength="14.8" lengthAdjust="spacingAndGlyphs" class="s">6.0</text>
<text x="817.6999999999999" y="136" font-size="12.5" font-family='"Liberation Sans", sans-serif' text-anchor="start" textLength="14.8" lengthAdjust="spacingAndGlyphs" class="s">5.0</text>
<text x="817.6999999999999" y="150" font-size="12.5" font-family='"Liberation Sans", sans-serif' text-anchor="start" textLength="14.8" lengthAdjust="spacingAndGlyphs" class="s">4.0</text>
<text x="817.6999999999999" y="164" font-size="12.5" font-family='"Liberation Sans", sans-serif' text-anchor="start" textLength="14.8" lengthAdjust="spacingAndGlyphs" class="s">3.0</text>
<text x="817.6999999999999" y="178" font-size="12.5" font-family='"Liberation Sans", sans-serif' text-anchor="start" textLength="14.8" lengthAdjust="spacingAndGlyphs" class="s">2.0</text>
<text x="817.6999999999999" y="192" font-size="12.5" font-family='"Liberation Sans", sans-serif' text-anchor="start" textLength="14.8" lengthAdjust="spacingAndGlyphs" class="s">1.0</text>
<text x="817.6999999999999" y="206" font-size="12.5" font-family='"Liberation Sans", sans-serif' text-anchor="start" textLength="14.8" lengthAdjust="spacingAndGlyphs" class="s">0.0</text>
<text x="817.6" y="220" font-size="13" font-family='"Liberation Serif", serif' text-anchor="start" textLength="24.3" lengthAdjust="spacingAndGlyphs" class="s">miss</text>
<text x="800.5" y="76" font-size="13" font-family='"Liberation Serif", serif' text-anchor="start" textLength="18" lengthAdjust="spacingAndGlyphs" class="s">m/s</text>
<text x="817.6999999999999" y="369" font-size="12.5" font-family='"Liberation Sans", sans-serif' text-anchor="start" textLength="20.9" lengthAdjust="spacingAndGlyphs" class="s">48.0</text>
<text x="817.6999999999999" y="389" font-size="12.5" font-family='"Liberation Sans", sans-serif' text-anchor="start" textLength="20.9" lengthAdjust="spacingAndGlyphs" class="s">12.0</text>
<text x="817.6999999999999" y="408" font-size="12.5" font-family='"Liberation Sans", sans-serif' text-anchor="start" textLength="14.8" lengthAdjust="spacingAndGlyphs" class="s">6.0</text>
<text x="817.6999999999999" y="428" font-size="12.5" font-family='"Liberation Sans", sans-serif' text-anchor="start" textLength="14.8" lengthAdjust="spacingAndGlyphs" class="s">3.0</text>
<text x="817.6999999999999" y="447" font-size="12.5" font-family='"Liberation Sans", sans-serif' text-anchor="start" textLength="14.8" lengthAdjust="spacingAndGlyphs" class="s">1.5</text>
<text x="817.6999999999999" y="467" font-size="12.5" font-family='"Liberation Sans", sans-serif' text-anchor="start" textLength="14.8" lengthAdjust="spacingAndGlyphs" class="s">0.5</text>
<text x="817.6999999999999" y="485" font-size="12.5" font-family='"Liberation Sans", sans-serif' text-anchor="start" textLength="14.8" lengthAdjust="spacingAndGlyphs" class="s">0.1</text>
<text x="817.6999999999999" y="495" font-size="12.5" font-family='"Liberation Sans", sans-serif' text-anchor="start" textLength="14.8" lengthAdjust="spacingAndGlyphs" class="s">0.0</text>
<text x="817.6" y="504" font-size="13" font-family='"Liberation Serif", serif' text-anchor="start" textLength="24.3" lengthAdjust="spacingAndGlyphs" class="s">miss</text>
<text x="800.5" y="356" font-size="13" font-family='"Liberation Serif", serif' text-anchor="start" textLength="31" lengthAdjust="spacingAndGlyphs" class="s">mm/hr</text>
<text x="818.6999999999999" y="657" font-size="12.5" font-family='"Liberation Sans", sans-serif' text-anchor="start" textLength="20.9" lengthAdjust="spacingAndGlyphs" class="s">40.0</text>
<text x="818.6999999999999" y="669" font-size="12.5" font-family='"Liberation Sans", sans-serif' text-anchor="start" textLength="20.9" lengthAdjust="spacingAndGlyphs" class="s">35.0</text>
<text x="818.6999999999999" y="682" font-size="12.5" font-family='"Liberation Sans", sans-serif' text-anchor="start" textLength="20.9" lengthAdjust="spacingAndGlyphs" class="s">30.0</text>
<text x="818.6999999999999" y="695" font-size="12.5" font-family='"Liberation Sans", sans-serif' text-anchor="start" textLength="20.9" lengthAdjust="spacingAndGlyphs" class="s">25.0</text>
<text x="818.6999999999999" y="707" font-size="12.5" font-family='"Liberation Sans", sans-serif' text-anchor="start" textLength="20.9" lengthAdjust="spacingAndGlyphs" class="s">20.0</text>
<text x="818.6999999999999" y="720" font-size="12.5" font-family='"Liberation Sans", sans-serif' text-anchor="start" textLength="20.9" lengthAdjust="spacingAndGlyphs" class="s">15.0</text>
<text x="818.6999999999999" y="732" font-size="12.5" font-family='"Liberation Sans", sans-serif' text-anchor="start" textLength="20.9" lengthAdjust="spacingAndGlyphs" class="s">10.0</text>
<text x="818.6999999999999" y="745" font-size="12.5" font-family='"Liberation Sans", sans-serif' text-anchor="start" textLength="14.8" lengthAdjust="spacingAndGlyphs" class="s">5.0</text>
<text x="818.6999999999999" y="758" font-size="12.5" font-family='"Liberation Sans", sans-serif' text-anchor="start" textLength="14.8" lengthAdjust="spacingAndGlyphs" class="s">0.0</text>
<text x="818.5999999999999" y="769.5" font-size="12.5" font-family='"Liberation Sans", sans-serif' text-anchor="start" textLength="6.7" lengthAdjust="spacingAndGlyphs" class="s">-</text>
<text x="825.6999999999999" y="770" font-size="12.5" font-family='"Liberation Sans", sans-serif' text-anchor="start" textLength="14.8" lengthAdjust="spacingAndGlyphs" class="s">5.0</text>
<text x="818.5" y="779" font-size="13" font-family='"Liberation Serif", serif' text-anchor="start" textLength="25.5" lengthAdjust="spacingAndGlyphs" class="s">none</text>
<text x="800.5" y="637" font-size="13" font-family='"Liberation Serif", serif' text-anchor="start" textLength="21" lengthAdjust="spacingAndGlyphs" class="s">dBZ</text>
<text x="241.5" y="21" font-size="25" font-family='"Liberation Sans", sans-serif' text-anchor="start" textLength="47.5" lengthAdjust="spacingAndGlyphs" class="b">2025</text>
<text x="290.1" y="21" font-size="25" font-family='"Liberation Sans", sans-serif' text-anchor="start" textLength="13.4" lengthAdjust="spacingAndGlyphs" class="b">-</text>
<text x="305.5" y="21" font-size="25" font-family='"Liberation Sans", sans-serif' text-anchor="start" textLength="23.5" lengthAdjust="spacingAndGlyphs" class="b">05</text>
<text x="330.1" y="21" font-size="25" font-family='"Liberation Sans", sans-serif' text-anchor="start" textLength="13.4" lengthAdjust="spacingAndGlyphs" class="b">-</text>
<text x="345.5" y="21" font-size="25" font-family='"Liberation Sans", sans-serif' text-anchor="start" textLength="23.5" lengthAdjust="spacingAndGlyphs" class="b">09</text>
<text x="386.5" y="21" font-size="25" font-family='"Liberation Sans", sans-serif' text-anchor="start" textLength="23" lengthAdjust="spacingAndGlyphs" class="b">11</text>
<text x="412.5" y="21" font-size="25" font-family='"Liberation Sans", sans-serif' text-anchor="start" textLength="5.5" lengthAdjust="spacingAndGlyphs" class="b">:</text>
<text x="417.5" y="21" font-size="25" font-family='"Liberation Sans", sans-serif' text-anchor="start" textLength="23.5" lengthAdjust="spacingAndGlyphs" class="b">00</text>
<text x="442.1" y="21" font-size="25" font-family='"Liberation Sans", sans-serif' text-anchor="start" textLength="13.4" lengthAdjust="spacingAndGlyphs" class="b">-</text>
<text x="456.5" y="21" font-size="25" font-family='"Liberation Sans", sans-serif' text-anchor="start" textLength="25" lengthAdjust="spacingAndGlyphs" class="b">12</text>
<text x="482" y="21" font-size="25" font-family='"Liberation Sans", sans-serif' text-anchor="start" textLength="5.5" lengthAdjust="spacingAndGlyphs" class="b">:</text>
<text x="487" y="21" font-size="25" font-family='"Liberation Sans", sans-serif' text-anchor="start" textLength="24.3" lengthAdjust="spacingAndGlyphs" class="b">00</text>
<text x="517.5" y="21" font-size="27" font-family='"Liberation Serif", serif' text-anchor="start" textLength="46.5" lengthAdjust="spacingAndGlyphs" class="b">UTC</text>
<text class="b" transform="translate(18.5 221.5) rotate(-90)" font-size="26" font-family='"Liberation Serif", serif' textLength="124.5" lengthAdjust="spacingAndGlyphs">Fall Velocity</text>
<rect x="1" y="95" width="24" height="1" fill="#000"/>
<text class="b" transform="translate(18.5 513) rotate(-90)" font-size="26" font-family='"Liberation Serif", serif' textLength="141" lengthAdjust="spacingAndGlyphs">Rain Intensity</text>
<rect x="1" y="370" width="24" height="1" fill="#000"/>
<text class="b" transform="translate(18.5 780) rotate(-90)" font-size="26" font-family='"Liberation Serif", serif' textLength="113" lengthAdjust="spacingAndGlyphs">Reflectivity</text>
<rect x="1" y="665" width="24" height="1" fill="#000"/>
</svg>
</body></html>
